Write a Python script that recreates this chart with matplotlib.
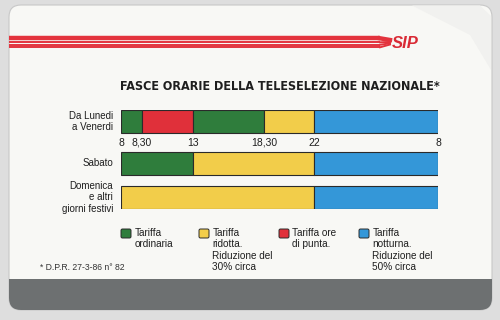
import numpy as np
import matplotlib
matplotlib.use("Agg")
import matplotlib.pyplot as plt
from matplotlib.patches import FancyBboxPatch, Rectangle, Polygon

# ---------------- data ----------------
title = "FASCE ORARIE DELLA TELESELEZIONE NAZIONALE*"
row_labels = ["Da Lunedi\na Venerdi", "Sabato", "Domenica\ne altri\ngiorni festivi"]

weekday_bounds = [8, 8.5, 13, 18.5, 22, 32]
weekday_tariffs = ["ordinaria", "punta", "ordinaria", "ridotta", "notturna"]
saturday_bounds = [8, 13, 22, 32]
saturday_tariffs = ["ordinaria", "ridotta", "notturna"]
sunday_bounds = [8, 22, 32]
sunday_tariffs = ["ridotta", "notturna"]

tick_hours = [8, 8.5, 13, 18.5, 22, 32]
tick_labels = ["8", "8,30", "13", "18,30", "22", "8"]

legend_keys = ["ordinaria", "ridotta", "punta", "notturna"]
legend_texts = ["Tariffa\nordinaria",
                "Tariffa\nridotta.\nRiduzione del\n30% circa",
                "Tariffa ore\ndi punta.",
                "Tariffa\nnotturna.\nRiduzione del\n50% circa"]
footnote = "* D.P.R. 27-3-86 n\u00b0 82"

# ---------------- style ----------------
colors = {"ordinaria": "#2f7d3c", "punta": "#e0303a",
          "ridotta": "#f2cd4a", "notturna": "#3497d8"}
# schematic (non-linear) time axis of the original card
scale_hours = [8, 8.5, 13, 18.5, 22, 32]
scale_pos = [0, 21, 72, 143, 193, 317]

def fwd(x):
    return np.interp(x, scale_hours, scale_pos, left=-1e3, right=1e3)
def inv(p):
    return np.interp(p, scale_pos, scale_hours)

TXT = ["Liberation Sans", "DejaVu Sans"]
ink = "#1e1e1e"

W, H = 500, 320
fig = plt.figure(figsize=(5, 3.2), dpi=100)
fig.patch.set_facecolor("#dedede")

bg = fig.add_axes([0, 0, 1, 1])
bg.set_xlim(0, W)
bg.set_ylim(H, 0)
bg.axis("off")

card = FancyBboxPatch((9, 5), 483, 305, boxstyle="round,pad=0,rounding_size=12",
                      fc="#f8f8f5", ec="#c8c8c8", lw=0.8, zorder=0)
bg.add_patch(card)
stripe = FancyBboxPatch((9, 279), 483, 31, boxstyle="round,pad=0,rounding_size=12",
                        fc="#6d7071", ec="none", zorder=1)
bg.add_patch(stripe)
bg.add_patch(Rectangle((9, 279), 483, 14, fc="#6d7071", ec="none", zorder=1))
bg.add_patch(Polygon([(412, 5.5), (480, 5.5), (491, 16), (491, 70), (470, 35)],
                     closed=True, fc="#f1f1ef", ec="none", zorder=0.5))

red = "#e3333d"
for y, lw in [(38.3, 3.2), (42.3, 1.4), (44.8, 1.4), (47.3, 1.4)]:
    bg.plot([9, 380], [y, y], color=red, lw=lw, solid_capstyle="butt", zorder=2)
    bg.plot([380, 390], [y, 40 + (y - 38.3) * 0.5], color=red, lw=lw, zorder=2)
bg.text(392, 43.5, "SIP", color="#d92a35", fontsize=12, fontweight="bold", style="italic",
        family=TXT, va="center", ha="left", zorder=3)

bg.text(120, 86, title, fontsize=9.0, fontweight="bold", fontstretch="condensed",
        family=["DejaVu Sans"], ha="left", va="center", color=ink, zorder=3)

# ---------------- chart ----------------
ax = fig.add_axes([121 / W, 1 - 209 / H, 317 / W, 99 / H])
ax.set_xscale("function", functions=(fwd, inv))
ax.set_xlim(8, 32)
bar_h = 0.61
row_y = [0, 1.1, 2]
ax.set_ylim(2 + bar_h / 2, -bar_h / 2)
ax.axis("off")

rows = [(weekday_bounds, weekday_tariffs), (saturday_bounds, saturday_tariffs),
        (sunday_bounds, sunday_tariffs)]
for i, (bounds, tariffs) in enumerate(rows):
    lefts = np.array(bounds[:-1])
    widths = np.diff(bounds)
    ax.barh([row_y[i]] * len(tariffs), widths, left=lefts, height=bar_h,
            color=[colors[t] for t in tariffs], edgecolor="#2a2a2a", linewidth=0.8)
    ax.text(-0.025, row_y[i], row_labels[i], transform=ax.get_yaxis_transform(),
            ha="right", va="center", fontsize=7.0, linespacing=1.2,
            family=TXT, color=ink)

for h, lab in zip(tick_hours, tick_labels):
    ax.text(h, 0.56, lab, ha="center", va="center", fontsize=7.5,
            family=TXT, color=ink)

leg_x = [121, 199, 279, 359]
for x, key, txt in zip(leg_x, legend_keys, legend_texts):
    bg.add_patch(FancyBboxPatch((x, 229), 10, 9, boxstyle="round,pad=0,rounding_size=1.5",
                                fc=colors[key], ec="#2a2a2a", lw=0.7, zorder=3))
    bg.text(x + 13.5, 227.5, txt, ha="left", va="top", fontsize=7.2, linespacing=1.2,
            family=TXT, color=ink, zorder=3)

bg.text(40, 267, footnote, ha="left", va="center", fontsize=6.2,
        family=TXT, color="#333333", zorder=3)

fig.savefig("out.png", dpi=100, facecolor=fig.get_facecolor())
